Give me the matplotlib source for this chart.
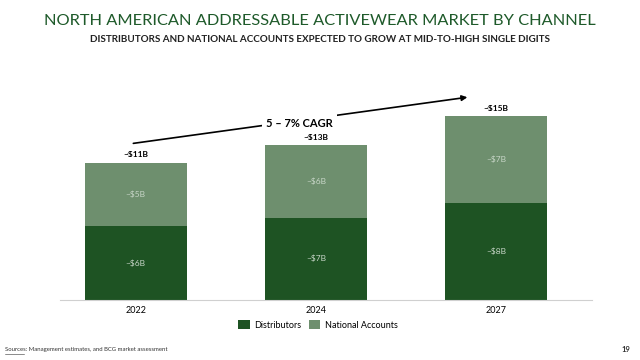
import matplotlib
matplotlib.use("Agg")
import matplotlib.pyplot as plt
from matplotlib.patches import Patch

years = ["2022", "2024", "2027"]
distributors = [5.9, 6.6, 7.8]
national = [5.1, 5.8, 6.9]
dist_labels = ["~$6B", "~$7B", "~$8B"]
nat_labels = ["~$5B", "~$6B", "~$7B"]
total_labels = ["~$11B", "~$13B", "~$15B"]

DARK = "#1E5323"
LIGHT = "#6E8F6E"
TITLE = "#1E5A2A"

plt.rcParams['font.family'] = ['Lato', 'DejaVu Sans']

fig = plt.figure(figsize=(6.4, 3.6), dpi=100)
ax = fig.add_axes([60/640, 1-300/360, (592-60)/640, 220/360])

x = list(range(len(years)))
w = 0.567
ax.bar(x, distributors, width=w, color=DARK, zorder=2)
ax.bar(x, national, width=w, bottom=distributors, color=LIGHT, zorder=2)

for i in x:
    d = distributors[i]; n = national[i]
    ax.text(i, d/2, dist_labels[i], ha='center', va='center', color='#C8D6C8', fontsize=6)
    ax.text(i, d + n/2, nat_labels[i], ha='center', va='center', color='#C8D6C8', fontsize=6)
    ax.text(i, d + n + 0.35, total_labels[i], ha='center', va='bottom', color='black', fontsize=6, fontweight='bold')

ax.set_xlim(-0.422, 2.533)
ax.set_ylim(0, 17.6)
for s in ['top', 'right', 'left']:
    ax.spines[s].set_visible(False)
ax.spines['bottom'].set_color('#D0D0D0')
ax.set_yticks([])
ax.set_xticks(x)
ax.set_xticklabels(years, fontsize=6.5)
ax.tick_params(axis='x', length=0, pad=4)

ax.annotate("", xy=(1.856, 16.25), xytext=(-0.03, 12.5),
            arrowprops=dict(arrowstyle='-|>', color='black', lw=1.2, mutation_scale=8), zorder=3)
ax.text(0.91, 14.1, "5 – 7% CAGR", ha='center', va='center', fontsize=8, fontweight='bold',
        bbox=dict(facecolor='white', edgecolor='none', pad=3), zorder=4)

fig.text(0.5, 1-21/360, "NORTH AMERICAN ADDRESSABLE ACTIVEWEAR MARKET BY CHANNEL",
         ha='center', va='center', fontsize=11.8, color=TITLE)
fig.text(0.5, 1-40/360, "DISTRIBUTORS AND NATIONAL ACCOUNTS EXPECTED TO GROW AT MID-TO-HIGH SINGLE DIGITS",
         ha='center', va='center', fontsize=7.1, fontweight='bold', color='#222222')

handles = [Patch(facecolor=DARK, label='Distributors'), Patch(facecolor=LIGHT, label='National Accounts')]
fig.legend(handles=handles, loc='center', bbox_to_anchor=(318/640, 1-325/360), ncol=2, frameon=False,
           fontsize=6.5, handlelength=1.3, handleheight=1.1, columnspacing=0.8, handletextpad=0.5)

fig.text(5/640, 1-350/360, "Sources: Management estimates, and BCG market assessment", ha='left', va='center',
         fontsize=4.3, color='#333333')
fig.add_artist(plt.Line2D([5/640, 24/640], [1-353.5/360, 1-353.5/360], color='#333333', lw=0.4))
fig.text(630/640, 1-350/360, "19", ha='right', va='center', fontsize=5.5, fontweight='bold', color='#333333')

fig.savefig("out.png", dpi=100)
